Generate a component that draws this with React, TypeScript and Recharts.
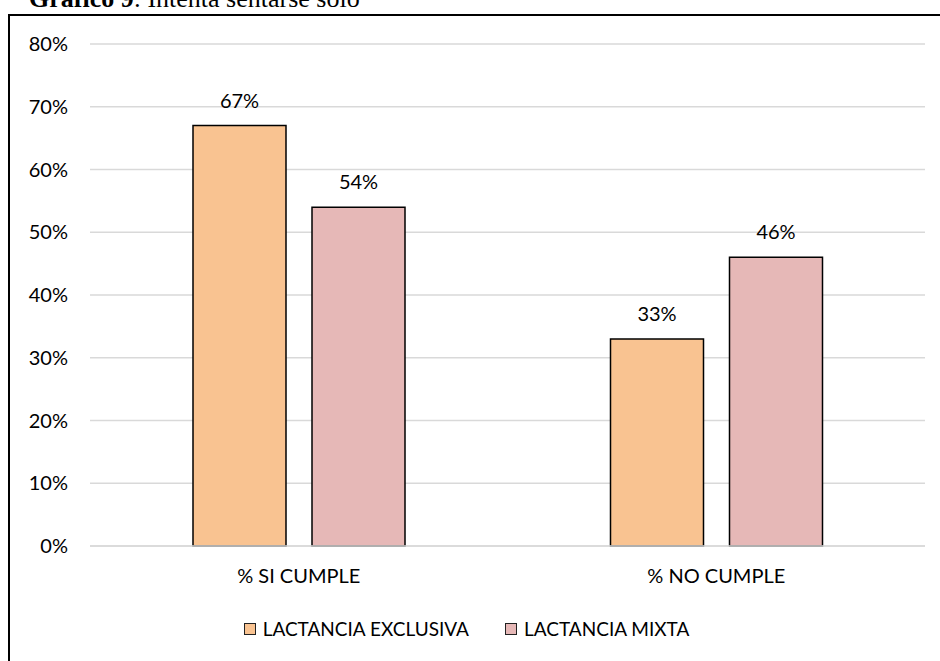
import { BarChart, Bar, XAxis, YAxis, CartesianGrid, Legend, LabelList } from "recharts";

const categorias = ["% SI CUMPLE", "% NO CUMPLE"];
const exclusiva = [67, 33];
const mixta = [54, 46];
const yTicks = [0, 10, 20, 30, 40, 50, 60, 70, 80];

const series = [
  { key: "exclusiva", name: "LACTANCIA EXCLUSIVA", color: "#F9C391" },
  { key: "mixta", name: "LACTANCIA MIXTA", color: "#E6B8B7" },
];

const data = categorias.map((c, i) => ({ cat: c, exclusiva: exclusiva[i], mixta: mixta[i] }));

const FONT = "Lato, 'Open Sans', sans-serif";

function LegendBox() {
  return (
    <div style={{ display: "flex", justifyContent: "center", alignItems: "center", fontFamily: FONT, fontSize: 19, color: "#000", lineHeight: "24px" }}>
      {series.map((s, i) => (
        <div key={s.key} style={{ display: "flex", alignItems: "center", marginLeft: i ? 36 : 0 }}>
          <span style={{ width: 10, height: 10, background: s.color, border: "1.5px solid #222", marginRight: 7, display: "inline-block" }} />
          <span>{s.name}</span>
        </div>
      ))}
    </div>
  );
}

export default function App() {
  return (
    <div style={{ position: "absolute", left: 0, top: 0, width: 940, height: 661, overflow: "hidden", background: "#fff" }}>
      <div style={{ position: "absolute", left: 8, top: 14, width: 1200, height: 1200, border: "2px solid #000" }} />
      <div style={{ position: "absolute", left: 29, top: -14, fontFamily: "'Liberation Serif', 'Times New Roman', serif", fontSize: 26, lineHeight: 1, whiteSpace: "nowrap", color: "#000" }}>
        <b>Gráfico 9</b>: Intenta sentarse solo
      </div>
      <div style={{ position: "absolute", left: 0, top: 0 }}>
        <BarChart width={940} height={661} data={data} margin={{ top: 44, right: 15, left: 0, bottom: 0 }} barSize={93} barGap={26}>
          <CartesianGrid vertical={false} stroke="#d9d9d9" strokeWidth={1.5} />
          <XAxis dataKey="cat" height={115} tickLine={false} tickSize={0} tickMargin={23} axisLine={{ stroke: "#d9d9d9", strokeWidth: 1.5 }} tick={{ fill: "#000", fontSize: 20, fontFamily: FONT }} />
          <YAxis width={90} domain={[0, 80]} ticks={yTicks} tickFormatter={(v) => `${v}%`} axisLine={false} tickLine={false} tickSize={0} tickMargin={22} tick={{ fill: "#000", fontSize: 20, fontFamily: FONT }} />
          <Legend layout="horizontal" verticalAlign="middle" align="center" content={<LegendBox />} wrapperStyle={{ top: 617, left: 0, width: 933 }} />
          {series.map((s) => (
            <Bar key={s.key} dataKey={s.key} name={s.name} fill={s.color} stroke="#000" strokeWidth={1.5} isAnimationActive={false}>
              <LabelList dataKey={s.key} position="top" offset={18} formatter={(v: number) => `${v}%`} style={{ fill: "#000", fontSize: 20, fontFamily: FONT }} />
            </Bar>
          ))}
        </BarChart>
      </div>
    </div>
  );
}
